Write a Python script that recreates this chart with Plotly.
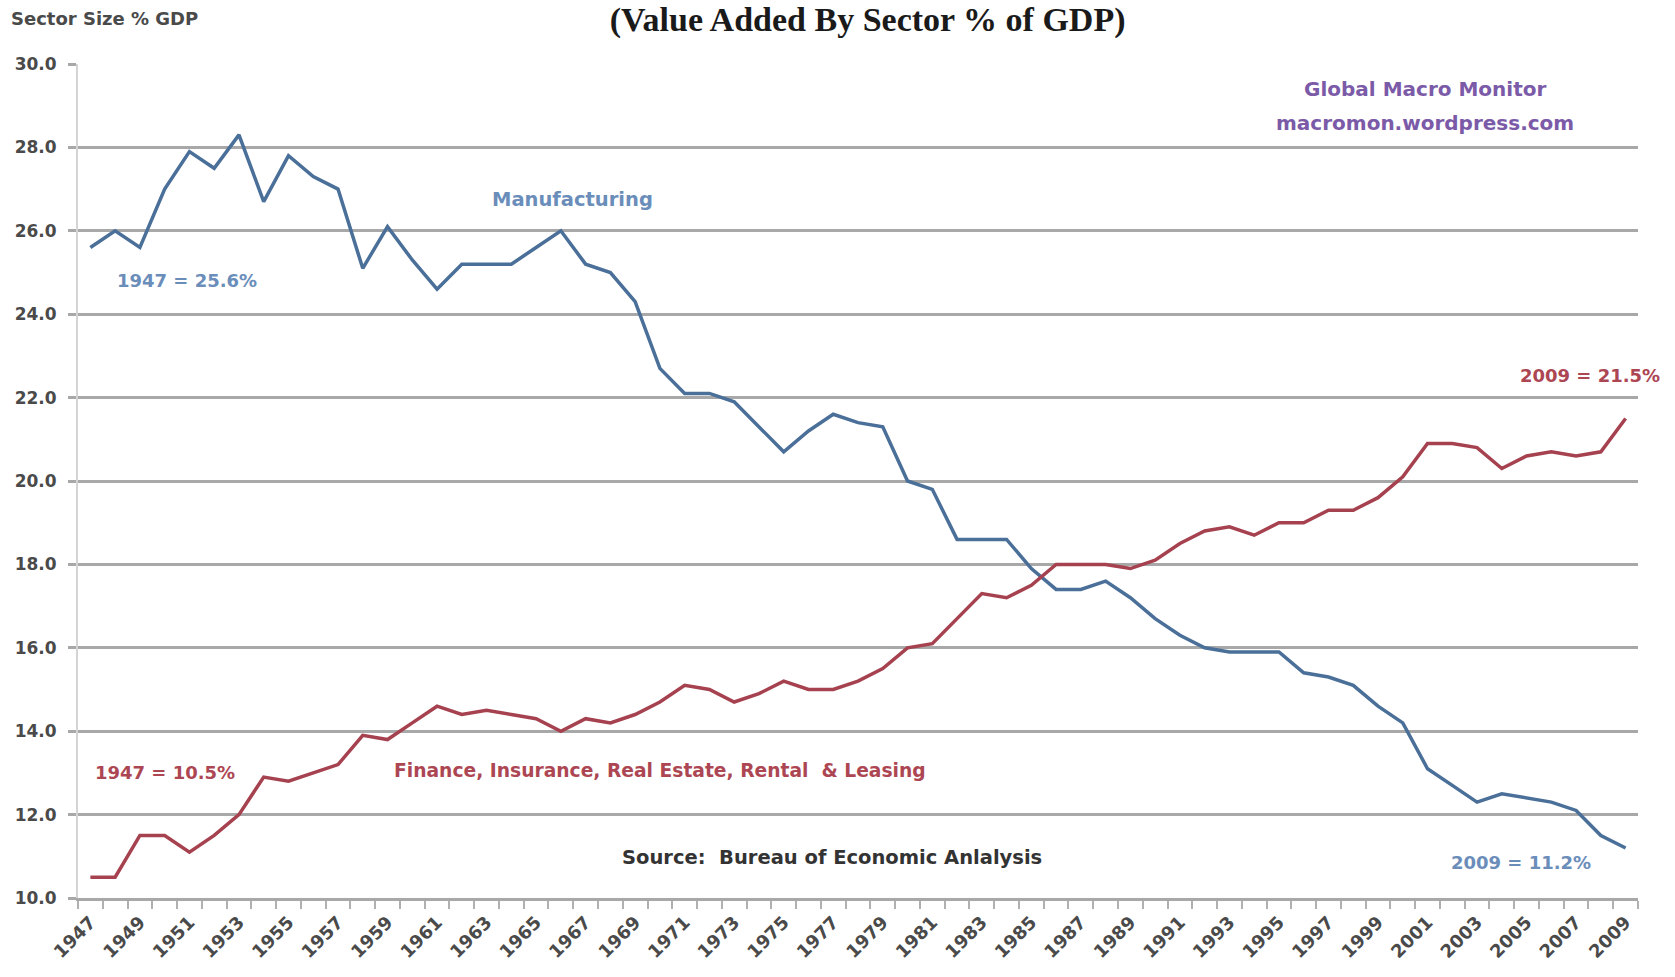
import plotly.graph_objects as go

# Value added by sector, % of GDP
years = list(range(1947, 2010))

manufacturing = [
    25.6, 26.0, 25.6, 27.0, 27.9, 27.5, 28.3, 26.7, 27.8, 27.3,
    27.0, 25.1, 26.1, 25.3, 24.6, 25.2, 25.2, 25.2, 25.6, 26.0,
    25.2, 25.0, 24.3, 22.7, 22.1, 22.1, 21.9, 21.3, 20.7, 21.2,
    21.6, 21.4, 21.3, 20.0, 19.8, 18.6, 18.6, 18.6, 17.9, 17.4,
    17.4, 17.6, 17.2, 16.7, 16.3, 16.0, 15.9, 15.9, 15.9, 15.4,
    15.3, 15.1, 14.6, 14.2, 13.1, 12.7, 12.3, 12.5, 12.4, 12.3,
    12.1, 11.5, 11.2,
]

finance = [
    10.5, 10.5, 11.5, 11.5, 11.1, 11.5, 12.0, 12.9, 12.8, 13.0,
    13.2, 13.9, 13.8, 14.2, 14.6, 14.4, 14.5, 14.4, 14.3, 14.0,
    14.3, 14.2, 14.4, 14.7, 15.1, 15.0, 14.7, 14.9, 15.2, 15.0,
    15.0, 15.2, 15.5, 16.0, 16.1, 16.7, 17.3, 17.2, 17.5, 18.0,
    18.0, 18.0, 17.9, 18.1, 18.5, 18.8, 18.9, 18.7, 19.0, 19.0,
    19.3, 19.3, 19.6, 20.1, 20.9, 20.9, 20.8, 20.3, 20.6, 20.7,
    20.6, 20.7, 21.5,
]

tick_years = list(range(1947, 2010, 2))
y_ticks = [10, 12, 14, 16, 18, 20, 22, 24, 26, 28, 30]

BLUE = "#4a6f98"
RED = "#a6424f"
BLUE_TXT = "#6a8dba"
RED_TXT = "#ad4653"
GRID = "#a8a8a8"
TEXT = "#4a4a4a"
FONT = "DejaVu Sans"

fig = go.Figure()
fig.add_trace(go.Scatter(x=years, y=manufacturing, mode="lines",
                         line=dict(color=BLUE, width=3.5), name="Manufacturing"))
fig.add_trace(go.Scatter(x=years, y=finance, mode="lines",
                         line=dict(color=RED, width=3.5),
                         name="Finance, Insurance, Real Estate, Rental & Leasing"))

ann = []

def label(text, x, y, color, size=19):
    ann.append(dict(text=text, x=x, y=y, xref="x", yref="y", showarrow=False,
                    font=dict(family=FONT, size=size, color=color, weight="bold")))

label("1947 = 25.6%", 1950.9, 24.82, BLUE_TXT, 18)
label("Manufacturing", 1966.45, 26.76, BLUE_TXT, 19.5)
label("Global Macro Monitor", 2000.9, 29.40, "#7b5aa8", 20)
label("macromon.wordpress.com", 2000.9, 28.59, "#7b5aa8", 20)
label("2009 = 21.5%", 2007.56, 22.52, RED_TXT, 18)
label("1947 = 10.5%", 1950.0, 13.0, RED_TXT, 18)
label("Finance, Insurance, Real Estate, Rental  &amp; Leasing", 1970.0, 13.05, RED_TXT, 18.7)
label("Source:  Bureau of Economic Anlalysis", 1976.94, 10.96, "#333333", 19.5)
label("2009 = 11.2%", 2004.78, 10.84, BLUE_TXT, 18)

ann.append(dict(text="Sector Size % GDP", x=-0.0442, y=1.054, xref="paper", yref="paper",
                xanchor="left", yanchor="middle", showarrow=False,
                font=dict(family=FONT, size=18, color=TEXT, weight="bold")))

fig.update_layout(
    width=1675, height=977,
    margin=dict(l=78, r=37, t=64, b=79),
    paper_bgcolor="white", plot_bgcolor="white",
    showlegend=False,
    title=dict(text="(Value Added By Sector % of GDP)", x=0.518, y=0.9806,
               xanchor="center", yanchor="middle",
               font=dict(family="Liberation Serif", size=34, color="#1a1a1a",
                         weight="bold")),
    annotations=ann,
)

fig.update_xaxes(
    range=[1946.5, 2009.5], tickvals=tick_years, ticktext=[str(t) for t in tick_years],
    tickangle=-45, ticks="", showgrid=False, zeroline=False,
    showline=True, linecolor=GRID, linewidth=2.5,
    tickfont=dict(family=FONT, size=18, color=TEXT, weight="bold"),
    ticklabelstandoff=4,
    minor=dict(tick0=1946.5, dtick=1, ticks="outside", ticklen=8,
               tickcolor="#b0b0b0", tickwidth=1.5, showgrid=False),
)

fig.update_yaxes(
    range=[10, 30], tickvals=y_ticks, tickformat=".1f",
    ticks="outside", ticklen=8, tickcolor=GRID, tickwidth=2.5,
    showgrid=True, gridcolor=GRID, gridwidth=2.5, zeroline=False,
    showline=True, linecolor="#d4d4d4", linewidth=2,
    tickfont=dict(family=FONT, size=17, color=TEXT, weight="bold"),
    ticklabelstandoff=8,
)

fig.write_html("out.html")
